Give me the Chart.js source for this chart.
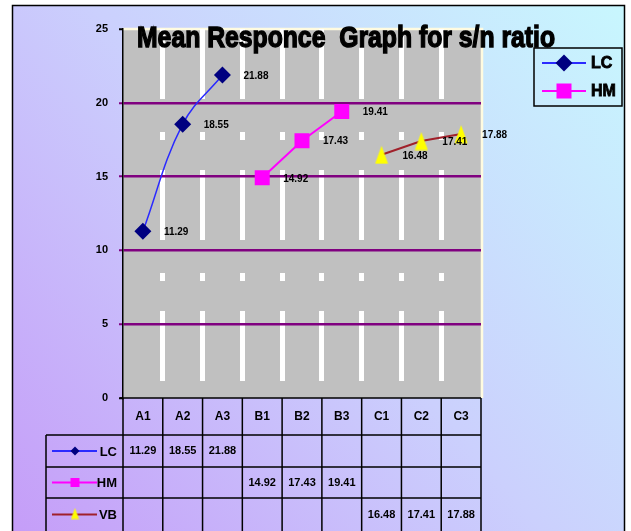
<!DOCTYPE html>
<html>
<head>
<meta charset="utf-8">
<script src="https://cdn.jsdelivr.net/npm/chart.js@4/dist/chart.umd.min.js"></script>
<style>
  html, body { margin: 0; padding: 0; background: #ffffff; }
  canvas { display: block; }
</style>
</head>
<body>
<canvas id="chart" width="631" height="531"></canvas>
<script>
// Factor levels along the x axis
const categories = ['A1', 'A2', 'A3', 'B1', 'B2', 'B3', 'C1', 'C2', 'C3'];

// Mean S/N ratio for each factor level
const lcValues = [11.29, 18.55, 21.88, null, null, null, null, null, null];
const hmValues = [null, null, null, 14.92, 17.43, 19.41, null, null, null];
const vbValues = [null, null, null, null, null, null, 16.48, 17.41, 17.88];

const seriesNames = ['LC', 'HM', 'VB'];
const legendBoxSeries = ['LC', 'HM'];

// Value axis range
const yMin = 0;
const yMax = 25;
const yStep = 5;

const chartTitle = 'Mean Responce  Graph for s/n ratio';

const FONT = '"Liberation Sans", Arial, sans-serif';
const NARROW = '"Liberation Sans Narrow", "Liberation Sans", Arial, sans-serif';

// Tall yellow triangle marker
function makeTriangle(w, h) {
  const c = document.createElement('canvas');
  c.width = w; c.height = h;
  const g = c.getContext('2d');
  g.fillStyle = '#ffff00';
  g.beginPath();
  g.moveTo(w / 2, 0.5);
  g.lineTo(w - 0.5, h - 0.5);
  g.lineTo(0.5, h - 0.5);
  g.closePath();
  g.fill();
  return c;
}
const triangleMarker = makeTriangle(14, 19);
const triangleSmall = makeTriangle(9, 12);

const BORDER = { left: 12.5, top: 5.5, right: 624.5, bottom: 530 };
const TABLE_ROWS = [398, 435, 467, 498, 531];
const TABLE_LEFT = 46;

// Page background, outer frame and grey plotting area
const backdrop = {
  id: 'backdrop',
  beforeDraw(chart) {
    const ctx = chart.ctx;
    const a = chart.chartArea;
    ctx.save();
    ctx.fillStyle = '#ffffff';
    ctx.fillRect(0, 0, chart.width, chart.height);
    const grad = ctx.createLinearGradient(BORDER.left, 531, BORDER.right, BORDER.top);
    grad.addColorStop(0, '#c59df8');
    grad.addColorStop(0.5, '#cbd0fd');
    grad.addColorStop(1, '#c8f7fe');
    ctx.fillStyle = grad;
    ctx.fillRect(BORDER.left, BORDER.top, BORDER.right - BORDER.left, BORDER.bottom - BORDER.top + 2);
    ctx.strokeStyle = '#000000';
    ctx.lineWidth = 1.5;
    ctx.strokeRect(BORDER.left, BORDER.top, BORDER.right - BORDER.left, BORDER.bottom - BORDER.top + 4);

    ctx.fillStyle = '#c0c0c0';
    ctx.fillRect(a.left, a.top, a.right - a.left, a.bottom - a.top);
    ctx.strokeStyle = '#fffbe0';
    ctx.lineWidth = 2.5;
    ctx.beginPath();
    ctx.moveTo(a.left, a.top);
    ctx.lineTo(a.right + 1, a.top);
    ctx.lineTo(a.right + 1, a.bottom);
    ctx.stroke();
    ctx.restore();
  }
};

function drawMarker(ctx, i, x, y, small) {
  if (i === 0) {
    const r = small ? 4.5 : 8.5;
    ctx.fillStyle = '#000080';
    ctx.beginPath();
    ctx.moveTo(x, y - r); ctx.lineTo(x + r, y); ctx.lineTo(x, y + r); ctx.lineTo(x - r, y);
    ctx.closePath(); ctx.fill();
  } else if (i === 1) {
    const h = small ? 4.5 : 7.5;
    ctx.fillStyle = '#ff00ff';
    ctx.fillRect(x - h, y - h, 2 * h, 2 * h);
  } else {
    const img = small ? triangleSmall : triangleMarker;
    ctx.drawImage(img, x - img.width / 2, y - img.height / 2 - 1);
  }
}

// Title, value labels, legend box and the data table beneath the axis
const overlay = {
  id: 'overlay',
  afterDraw(chart) {
    const ctx = chart.ctx;
    const xs = chart.scales.x;
    const a = chart.chartArea;
    ctx.save();

    // value labels beside each point
    ctx.fillStyle = '#000000';
    ctx.font = 'bold 10px ' + FONT;
    ctx.textAlign = 'left';
    ctx.textBaseline = 'middle';
    chart.data.datasets.forEach((ds, di) => {
      const meta = chart.getDatasetMeta(di);
      ds.data.forEach((v, i) => {
        if (v === null) return;
        const p = meta.data[i];
        ctx.fillText(v.toFixed(2), p.x + 21, p.y + 1);
      });
    });

    // title
    ctx.font = 'bold 30px ' + NARROW;
    ctx.textBaseline = 'alphabetic';
    const tw = ctx.measureText(chartTitle).width;
    ctx.save();
    ctx.translate(137, 47);
    ctx.scale(418 / tw, 1);
    ctx.fillStyle = '#000000';
    ctx.strokeStyle = '#000000';
    ctx.lineWidth = 1.4;
    ctx.fillText(chartTitle, 0, 0);
    ctx.strokeText(chartTitle, 0, 0);
    ctx.restore();

    // legend box
    const lb = { x: 534, y: 48, w: 88, h: 58 };
    ctx.strokeStyle = '#000000';
    ctx.lineWidth = 1.5;
    ctx.strokeRect(lb.x, lb.y, lb.w, lb.h);
    ctx.font = 'bold 16px ' + NARROW;
    ctx.textBaseline = 'middle';
    ctx.textAlign = 'left';
    legendBoxSeries.forEach((name, k) => {
      const di = seriesNames.indexOf(name);
      const ds = chart.data.datasets[di];
      const y = 63 + k * 28;
      ctx.strokeStyle = ds.borderColor;
      ctx.lineWidth = 2;
      ctx.beginPath(); ctx.moveTo(542, y); ctx.lineTo(586, y); ctx.stroke();
      drawMarker(ctx, di, 564, y, false);
      ctx.fillStyle = '#000000';
      ctx.lineWidth = 0.8;
      ctx.strokeStyle = '#000000';
      ctx.fillText(name, 591, y + 1);
      ctx.strokeText(name, 591, y + 1);
    });

    // data table
    const step = xs.getPixelForValue(1) - xs.getPixelForValue(0);
    const edges = [];
    for (let i = 0; i <= categories.length; i++) edges.push(xs.getPixelForValue(0) - step / 2 + i * step);
    ctx.strokeStyle = '#000000';
    ctx.lineWidth = 1.5;
    ctx.beginPath();
    ctx.moveTo(a.left - 3, TABLE_ROWS[0]); ctx.lineTo(a.right, TABLE_ROWS[0]);
    for (let r = 1; r < TABLE_ROWS.length - 1; r++) {
      ctx.moveTo(TABLE_LEFT, TABLE_ROWS[r]); ctx.lineTo(a.right, TABLE_ROWS[r]);
    }
    edges.forEach(x => { ctx.moveTo(x, TABLE_ROWS[0]); ctx.lineTo(x, 531); });
    ctx.moveTo(TABLE_LEFT, TABLE_ROWS[1]); ctx.lineTo(TABLE_LEFT, 531);
    ctx.stroke();

    ctx.fillStyle = '#000000';
    ctx.textAlign = 'center';
    ctx.textBaseline = 'middle';
    ctx.font = 'bold 12px ' + FONT;
    categories.forEach((c, i) => {
      ctx.fillText(c, xs.getPixelForValue(i), (TABLE_ROWS[0] + TABLE_ROWS[1]) / 2);
    });
    chart.data.datasets.forEach((ds, di) => {
      const yc = (TABLE_ROWS[di + 1] + TABLE_ROWS[di + 2]) / 2;
      ctx.font = 'bold 11px ' + FONT;
      ctx.textAlign = 'center';
      ctx.fillStyle = '#000000';
      ds.data.forEach((v, i) => {
        if (v === null) return;
        ctx.fillText(v.toFixed(2), xs.getPixelForValue(i), yc);
      });
      ctx.strokeStyle = ds.borderColor;
      ctx.lineWidth = 2;
      ctx.beginPath(); ctx.moveTo(52, yc); ctx.lineTo(97, yc); ctx.stroke();
      drawMarker(ctx, di, 75, yc, true);
      ctx.font = 'bold 13px ' + NARROW;
      ctx.textAlign = 'right';
      ctx.fillStyle = '#000000';
      ctx.fillText(ds.label, 117, yc + 1);
    });
    ctx.restore();
  }
};

const purple = '#800080';

new Chart(document.getElementById('chart'), {
  type: 'line',
  data: {
    labels: categories,
    datasets: [
      {
        label: seriesNames[0], data: lcValues,
        borderColor: '#2a2aff', borderWidth: 1.5, tension: 0.4,
        pointStyle: 'rectRot', pointRadius: 8.5,
        pointBackgroundColor: '#000080', pointBorderColor: '#000080', pointBorderWidth: 0
      },
      {
        label: seriesNames[1], data: hmValues,
        borderColor: '#ff00ff', borderWidth: 2, tension: 0,
        pointStyle: 'rect', pointRadius: 10.6,
        pointBackgroundColor: '#ff00ff', pointBorderColor: '#ff00ff', pointBorderWidth: 0
      },
      {
        label: seriesNames[2], data: vbValues,
        borderColor: '#a0202a', borderWidth: 2, tension: 0,
        pointStyle: triangleMarker, pointRadius: 9,
        pointBackgroundColor: '#ffff00', pointBorderColor: '#ffff00', pointBorderWidth: 0
      }
    ]
  },
  options: {
    responsive: false,
    devicePixelRatio: 1,
    animation: false,
    events: [],
    layout: { padding: { top: 29, right: 150, bottom: 133, left: 0 } },
    plugins: {
      legend: { display: false },
      title: { display: false },
      tooltip: { enabled: false }
    },
    scales: {
      x: {
        offset: true,
        ticks: { display: false },
        grid: {
          offset: true,
          drawTicks: false,
          lineWidth: 5,
          color: c => (c.type !== 'tick' || c.index === 0) ? 'rgba(0,0,0,0)' : '#ffffff'
        },
        border: { display: false, dash: [70, 33, 8, 30] },
        afterFit: s => { s.height = 0; }
      },
      y: {
        min: yMin, max: yMax,
        ticks: {
          stepSize: yStep,
          padding: 11,
          color: '#000000',
          font: { family: FONT, size: 11, weight: 'bold' }
        },
        grid: {
          lineWidth: 2.5,
          tickLength: 4,
          color: c => (c.tick && c.tick.value > yMin && c.tick.value < yMax) ? purple : 'rgba(0,0,0,0)',
          tickColor: c => (c.tick && c.tick.value > yMin && c.tick.value < yMax) ? purple : '#000000',
          tickWidth: 2
        },
        border: { display: true, color: '#000000', width: 1.5 },
        afterFit: s => { s.width = 123; }
      }
    }
  },
  plugins: [backdrop, overlay]
});
</script>
</body>
</html>
